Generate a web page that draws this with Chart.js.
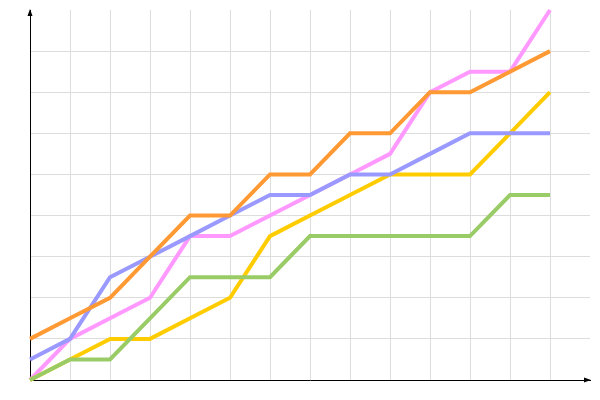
<!DOCTYPE html>
<html>
<head>
<meta charset="utf-8">
<script src="https://cdn.jsdelivr.net/npm/chart.js@4/dist/chart.umd.min.js"></script>
<style>
html,body{margin:0;padding:0;background:#fff;}
#wrap{width:600px;height:400px;position:relative;}
</style>
</head>
<body>
<div id="wrap"><canvas id="c" width="600" height="400"></canvas></div>
<script>
// Category positions (x values) and series values
const xValues = [0,1,2,3,4,5,6,7,8,9,10,11,12,13];
const orange = [1,1.5,2,3,4,4,5,5,6,6,7,7,7.5,8];
const blue   = [0.5,1,2.5,3,3.5,4,4.5,4.5,5,5,5.5,6,6,6];
const green  = [0,0.5,0.5,1.5,2.5,2.5,2.5,3.5,3.5,3.5,3.5,3.5,4.5,4.5];
const yellow = [0,0.5,1,1,1.5,2,3.5,4,4.5,5,5,5,6,7];
const pink   = [0,1,1.5,2,3.5,3.5,4,4.5,5,5.5,7,7.5,7.5,9];

const series = [
  {data: orange, color: 'rgb(255,153,51)'},
  {data: blue,   color: 'rgb(153,153,255)'},
  {data: green,  color: 'rgb(153,204,102)'},
  {data: yellow, color: 'rgb(255,204,0)'},
  {data: pink,   color: 'rgb(255,153,255)'}
];

const arrows = {
  id: 'arrows',
  afterDraw(chart) {
    const ctx = chart.ctx, a = chart.chartArea;
    ctx.save();
    ctx.fillStyle = '#000';
    ctx.beginPath();
    ctx.moveTo(a.left, a.top - 1);
    ctx.lineTo(a.left - 2.5, a.top + 6);
    ctx.lineTo(a.left + 2.5, a.top + 6);
    ctx.closePath();
    ctx.fill();
    ctx.beginPath();
    ctx.moveTo(a.right + 1, a.bottom);
    ctx.lineTo(a.right - 6, a.bottom - 2.5);
    ctx.lineTo(a.right - 6, a.bottom + 2.5);
    ctx.closePath();
    ctx.fill();
    ctx.restore();
  }
};

new Chart(document.getElementById('c'), {
  type: 'line',
  data: {
    datasets: series.map(s => ({
      data: s.data.map((v, i) => ({x: xValues[i], y: v})),
      borderColor: s.color,
      backgroundColor: s.color,
      borderWidth: 4,
      pointRadius: 0,
      tension: 0,
      fill: false,
      clip: false
    }))
  },
  options: {
    responsive: false,
    animation: false,
    layout: {padding: {left: 30, right: 10, top: 10, bottom: 20}},
    plugins: {legend: {display: false}, tooltip: {enabled: false}},
    scales: {
      x: {
        type: 'linear', min: 0, max: 14,
        ticks: {display: false, stepSize: 1},
        border: {display: true, color: '#000', width: 1},
        grid: {
          drawTicks: false,
          lineWidth: 1,
          color: c => (c.tick && c.tick.value === 14) ? 'rgba(0,0,0,0)' : 'rgb(221,221,221)'
        }
      },
      y: {
        min: 0, max: 9,
        ticks: {display: false, stepSize: 1},
        border: {display: true, color: '#000', width: 1},
        grid: {
          drawTicks: false,
          lineWidth: 1,
          color: c => (c.tick && c.tick.value === 9) ? 'rgba(0,0,0,0)' : 'rgb(221,221,221)'
        }
      }
    }
  },
  plugins: [arrows]
});
</script>
</body>
</html>
